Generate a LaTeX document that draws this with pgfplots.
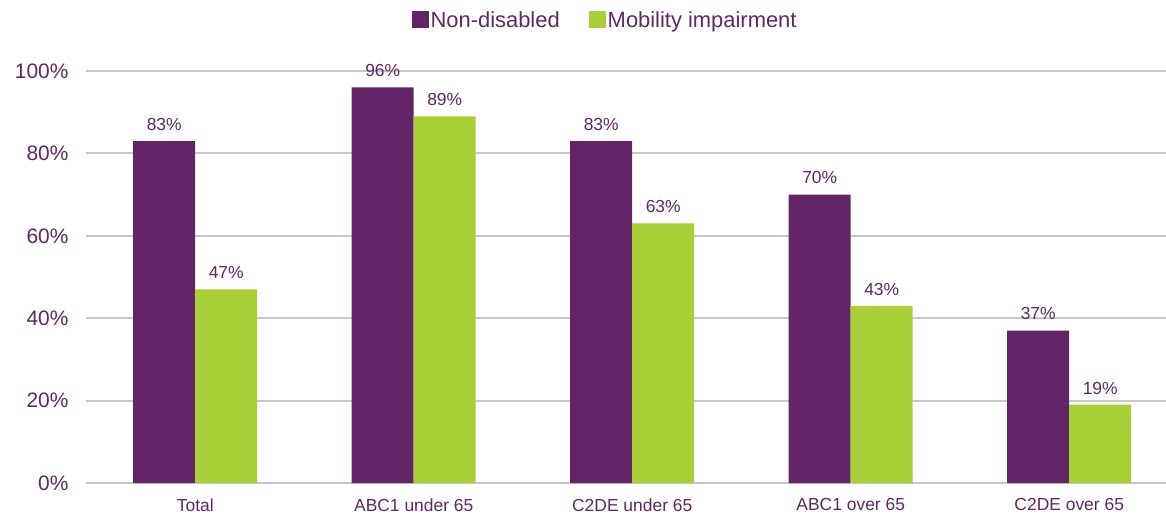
\documentclass[border=0pt]{standalone}
\usepackage{pgfplots}
\pgfplotsset{compat=1.18}
\usepackage{fontspec}
\setmainfont{Liberation Sans}
\definecolor{barpurple}{RGB}{98,36,100}
\definecolor{bargreen}{RGB}{168,207,56}
\definecolor{txt}{RGB}{94,40,98}
\definecolor{gridgray}{RGB}{200,200,200}
\begin{document}
\begin{tikzpicture}
\useasboundingbox (-86bp,-32bp) rectangle (1080bp,483bp);
\begin{axis}[
  at={(0,0)}, anchor=south west,
  scale only axis, width=1080bp, height=412bp,
  ybar=0pt, bar width=62bp,
  ymin=0, ymax=100, ytick={0,20,40,60,80,100},
  xmin=-0.5, xmax=4.443,
  xtick=data,
  xticklabels={Total, ABC1 under 65, C2DE under 65, ABC1 over 65, C2DE over 65},
  yticklabel={\pgfmathprintnumber{\tick}\%},
  /pgf/number format/assume math mode=true,
  ymajorgrids, grid style={gridgray, line width=2.2bp},
  axis line style={draw=none}, tick style={draw=none},
  yticklabel style={font=\fontsize{21}{21}\selectfont, text=txt, anchor=east, xshift=-14bp},
  xticklabel style={font=\fontsize{17.5}{17.5}\selectfont, text=txt, anchor=north, yshift=-8bp},
  clip=false,
  nodes near coords={\pgfmathprintnumber{\pgfplotspointmeta}\%},
  nodes near coords style={font=\fontsize{17.5}{17.5}\selectfont, text=txt, anchor=south, yshift=7bp},
  legend style={at={(0.4806,1.124)}, anchor=center, draw=none, fill=none,
    legend columns=2, font=\fontsize{22}{22}\selectfont, text=txt,
    /tikz/every even column/.append style={column sep=27bp},
    inner sep=0pt},
  legend image code/.code={\fill[#1] (0bp,-8.5bp) rectangle (17bp,8.5bp);},
]
\addplot[fill=barpurple, draw=none] coordinates {(0,83) (1,96) (2,83) (3,70) (4,37)};
\addplot[fill=bargreen, draw=none] coordinates {(0,47) (1,89) (2,63) (3,43) (4,19)};
\legend{Non-disabled, Mobility impairment}
\end{axis}
\end{tikzpicture}
\end{document}
